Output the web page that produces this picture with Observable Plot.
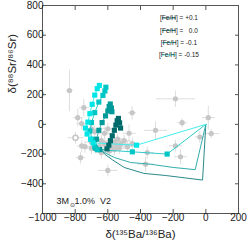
<!DOCTYPE html>
<html><head><meta charset="utf-8">
<script src="https://cdn.jsdelivr.net/npm/d3@7"></script>
<script src="https://cdn.jsdelivr.net/npm/@observablehq/plot@0.6"></script>
<style>body{margin:0;background:#fff}</style>
</head><body><div id="chart"></div>
<script>
// ---- data ----
const xTicks = [-1000, -800, -600, -400, -200, 0, 200];
const yTicks = [-400, -200, 0, 200, 400, 600, 800];
const fehLabels = ["[Fe/H] = +0.1", "[Fe/H] =   0.0", "[Fe/H] = -0.1", "[Fe/H] = -0.15"];
const lineColors = ["#2a8a8a", "#33adad", "#33cccc", "#44eeee"];
const squareColors = ["#006a6a", "#009a9a", "#00c6c6", "#00e6e6"];

// model tracks (thermal pulses), squares drawn from index sqStart
const m01X = [0, -20, -240, -380, -500, -570, -620, -640, -605, -594, -584, -573, -560, -551, -543, -535, -528, -522];
const m01Y = [0, -375, -345, -330, -290, -240, -200, -170, -165, -140, -110, -77, -40, -5, 25, 40, 10, -25];
const m00X = [0, -65, -200, -340, -460, -560, -620, -650, -675, -669, -655, -635, -614, -600, -592, -585, -578, -575];
const m00Y = [0, -305, -290, -268, -257, -223, -190, -170, -160, -100, -40, 12, 57, 90, 120, 137, 110, 85];
const mm01X = [0, -237, -450, -665, -680, -696, -710, -700, -680, -655, -630, -618, -612];
const mm01Y = [0, -200, -185, -170, -150, -100, -44, 12, 79, 150, 195, 225, 250];
const mm015X = [0, -424, -690, -706, -727, -737, -722, -710, -696, -680, -665, -652];
const mm015Y = [0, -140, -125, -100, -65, -25, 15, 72, 135, 197, 240, 262];
const sqStart = [8, 7, 1, 1];

// grains (gray), with 1-sigma errors
const gX  = [-835, -186, 15, -145, -451, -308, -37, 33, -155, -369, -359, -600, -767, -784, -747, -760, -470, -186, -640, -620, -600, -580, -560, -545, -530, -560, -520, -500, -680, -700, -620, -600, -590, -640, -450, -760, -740, -700, -650, -540, -480, -700];
const gY  = [228, 172, 45, 11, 78, -40, -85, -62, -218, -268, -190, -310, -224, 45, 112, 5, -60, -144, -110, -130, -140, -150, -120, -140, -160, -170, -130, -110, -50, -30, -60, -30, -180, -190, -130, -145, -150, -160, -150, -100, -150, -120];
const gEx = [20, 120, 40, 30, 25, 70, 30, 50, 40, 50, 40, 60, 30, 30, 30, 30, 40, 40, 40, 40, 50, 40, 40, 40, 50, 40, 40, 40, 30, 30, 40, 40, 40, 40, 50, 30, 30, 40, 40, 40, 60, 40];
const gEy = [140, 55, 80, 30, 45, 60, 40, 30, 50, 50, 40, 40, 40, 60, 60, 40, 60, 40, 40, 40, 40, 40, 40, 40, 40, 40, 40, 40, 40, 40, 40, 40, 40, 40, 40, 40, 40, 40, 40, 40, 40, 40];
const openX = [-798];
const openY = [-90];
const openEx = [50];
const openEy = [40];

// ---- build tables ----
const tracks = [[m01X, m01Y], [m00X, m00Y], [mm01X, mm01Y], [mm015X, mm015Y]];
const lines = [], squares = [];
tracks.forEach(([X, Y], s) => {
  X.forEach((x, i) => {
    const d = {s, x, y: Y[i]};
    lines.push(d);
    if (i >= sqStart[s]) squares.push(d);
  });
});
const grains = gX.map((x, i) => ({x, y: gY[i], ex: gEx[i], ey: gEy[i]}));
const opens = openX.map((x, i) => ({x, y: openY[i], ex: openEx[i], ey: openEy[i]}));
const allG = grains.concat(opens);

const font = "'Liberation Sans', Arial, sans-serif";
const fmt = d => d < 0 ? "\u2212" + (-d) : String(d);
const blank = () => "";

const legend = (index, scales, values, dims) => {
  const g = d3.create("svg:g").attr("font-family", font).attr("font-size", 6.5);
  const x0 = dims.width - dims.marginRight - 76;
  fehLabels.forEach((t, i) => {
    const y = dims.marginTop + 13 + i * 12.3;
    g.append("line").attr("x1", x0).attr("x2", x0 + 14).attr("y1", y).attr("y2", y)
      .attr("stroke", lineColors[i]).attr("stroke-width", 1);
    g.append("text").attr("x", x0 + 17).attr("y", y).attr("dy", "0.35em").attr("fill", "#222").text(t);
  });
  return g.node();
};

const plot = Plot.plot({
  width: 249, height: 242,
  marginLeft: 42, marginRight: 11, marginTop: 5, marginBottom: 29,
  style: {fontFamily: font, fontSize: "10px", background: "#fff"},
  x: {domain: [-1000, 200]},
  y: {domain: [-600, 800]},
  marks: [
    Plot.link(allG, {x1: d => d.x - d.ex, x2: d => d.x + d.ex, y1: "y", y2: "y", stroke: "#dddddd", strokeWidth: 1}),
    Plot.link(allG, {x1: "x", x2: "x", y1: d => d.y - d.ey, y2: d => d.y + d.ey, stroke: "#dddddd", strokeWidth: 1}),
    Plot.dot(grains, {x: "x", y: "y", r: 2.6, fill: "#c6c6c6", stroke: "none"}),
    Plot.dot(opens, {x: "x", y: "y", r: 2.6, fill: "#fff", stroke: "#c6c6c6"}),
    Plot.line(lines, {x: "x", y: "y", z: "s", stroke: d => lineColors[d.s], strokeWidth: 1}),
    Plot.dot(squares, {x: "x", y: "y", symbol: "square", r: 2.9, fill: d => squareColors[d.s], stroke: "none"}),
    Plot.frame({stroke: "#555"}),
    Plot.axisX(xTicks, {anchor: "bottom", tickSize: -4, tickPadding: 4, label: null, tickFormat: fmt, fill: "#222", stroke: "#555"}),
    Plot.axisX(xTicks, {anchor: "top", tickSize: -4, tickFormat: blank, label: null, stroke: "#555"}),
    Plot.axisY(yTicks, {anchor: "left", tickSize: -4, tickPadding: 3, label: null, tickFormat: fmt, fill: "#222", stroke: "#555"}),
    Plot.axisY(yTicks, {anchor: "right", tickSize: -4, tickFormat: blank, label: null, stroke: "#555"}),
    Plot.text(["\u03b4(\u00b9\u00b3\u2075Ba/\u00b9\u00b3\u2076Ba)"], {frameAnchor: "bottom", dy: 24, fontSize: 11.5, fill: "#222"}),
    Plot.text(["\u03b4(\u2078\u2078Sr/\u2078\u2076Sr)"], {frameAnchor: "left", rotate: -90, dx: -30, dy: -16, fontSize: 11.5, fill: "#222"}),
    Plot.text(["3M"], {frameAnchor: "bottom-left", dx: 14, dy: -10, fontSize: 9, textAnchor: "start", fill: "#222"}),
    Plot.text(["\u2299"], {frameAnchor: "bottom-left", dx: 27, dy: -7, fontSize: 5.5, textAnchor: "start", fill: "#222"}),
    Plot.text(["1.0%  V2"], {frameAnchor: "bottom-left", dx: 32, dy: -10, fontSize: 9, textAnchor: "start", fill: "#222"}),
    legend
  ]
});
document.getElementById("chart").append(plot);
</script>
</body></html>
